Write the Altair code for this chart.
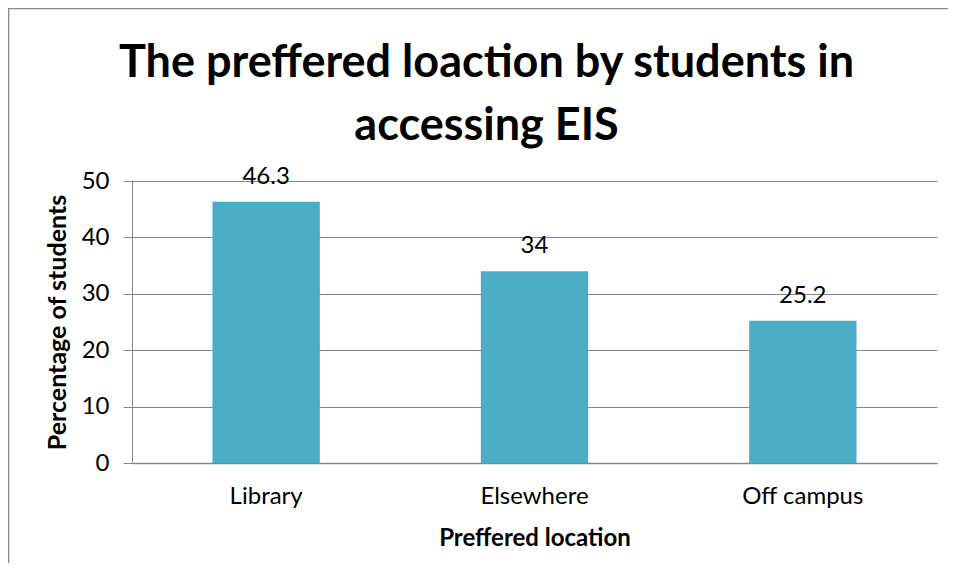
import altair as alt
import pandas as pd

categories = ["Library", "Elsewhere", "Off campus"]
values = [46.3, 34, 25.2]
y_ticks = [0, 10, 20, 30, 40, 50]

df = pd.DataFrame({"location": categories, "pct": values})

FONT = "Lato"
GRID = "#868686"
FS = 24

base = alt.Chart(df)

bars = base.mark_bar(color="#4BACC6").encode(
    x=alt.X("location:N", sort=categories,
            scale=alt.Scale(paddingInner=0.6, paddingOuter=0.3),
            axis=alt.Axis(title="Preffered location", labelAngle=0, ticks=False,
                          labelFontSize=FS, labelPadding=21, labelColor="#000",
                          titleFontSize=FS, titleFontWeight="bold", titlePadding=18,
                          titleColor="#000", domainColor=GRID, domainWidth=1.5,
                          labelFont=FONT, titleFont=FONT)),
    y=alt.Y("pct:Q", scale=alt.Scale(domain=[0, 50]),
            axis=alt.Axis(title="Percentage of students", values=y_ticks,
                          tickSize=9, tickColor=GRID, gridColor=GRID, grid=True,
                          domainColor=GRID, labelFontSize=FS, labelPadding=14,
                          labelColor="#000", titleFontSize=25, titleFontWeight="bold",
                          titleColor="#000", titlePadding=11,
                          labelFont=FONT, titleFont=FONT)),
)

labels = base.mark_text(dy=-18, fontSize=FS, font=FONT, color="#000", baseline="alphabetic").encode(
    x=alt.X("location:N", sort=categories),
    y="pct:Q",
    text=alt.Text("pct:Q"),
)

border = alt.Chart(pd.DataFrame({"a": [0]})).mark_rect(
    fillOpacity=0, stroke="#888888", strokeWidth=1.5
).encode(
    x=alt.value(-123.5), y=alt.value(-172.5), x2=alt.value(1200), y2=alt.value(1200)
)

chart = alt.layer(bars, labels, border).properties(
    width=805, height=282,
    padding={"left": 124, "top": 173, "right": 11, "bottom": 100},
    autosize=alt.AutoSizeParams(type="none"),
    title=alt.Title(["The preffered loaction by students in", "accessing EIS"],
                    fontSize=45, font=FONT, fontWeight="bold", color="#000",
                    lineHeight=63, anchor="middle", dx=-48, offset=-141),
).configure_view(stroke=None)

chart.save("out.html", embed_options={"renderer": "svg", "actions": False})
